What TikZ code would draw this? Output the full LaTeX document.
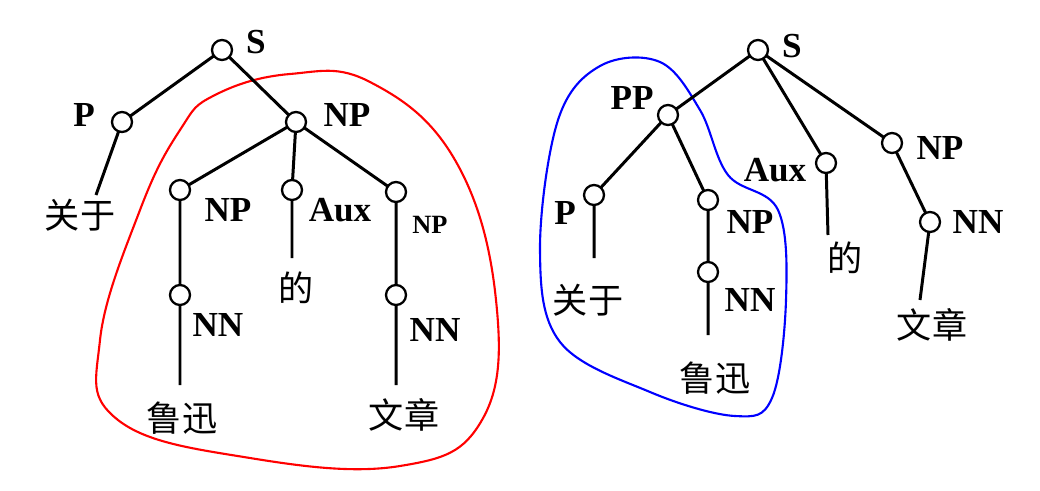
\documentclass[tikz,border=0pt]{standalone}
\usepackage{fontspec}
\setmainfont{Liberation Serif}
\newfontfamily\cjk{Noto Sans CJK SC}
\begin{document}
\begin{tikzpicture}[x=0.02cm,y=-0.02cm,
    tn/.style={circle,draw,fill=white,line width=1.3pt,minimum size=0.4cm,inner sep=0pt},
    lab/.style={font=\fontsize{20}{20}\selectfont\bfseries},
    word/.style={font=\fontsize{20}{20}\selectfont\cjk},
    edge/.style={line width=1.7pt}]
    \useasboundingbox (0,0) rectangle (1040,490);

    % left tree
    \draw[red,line width=1.2pt] plot[smooth cycle,tension=0.7] coordinates {(215,95) (290,74) (370,82) (455,160) (496,300) (482,420) (400,466) (250,458) (118,420) (100,340) (140,210) (180,130)};
    \coordinate (Lpw) at (96,195);
    \coordinate (Law) at (292,258);
    \coordinate (Lnw1) at (180,385);
    \coordinate (Lnw2) at (396,385);
    \draw[edge] (222,50) -- (122,122) -- (Lpw);
    \draw[edge] (222,50) -- (296,122);
    \draw[edge] (296,122) -- (180,190) -- (180,295) -- (Lnw1);
    \draw[edge] (296,122) -- (292,190) -- (Law);
    \draw[edge] (296,122) -- (396,192) -- (396,295) -- (Lnw2);
    \node[tn] (LS) at (222,50) {};
    \node[tn] (LP) at (122,122) {};
    \node[tn] (LNP) at (296,122) {};
    \node[tn] (LNPa) at (180,190) {};
    \node[tn] (LAux) at (292,190) {};
    \node[tn] (LNPb) at (396,192) {};
    \node[tn] (LNNa) at (180,295) {};
    \node[tn] (LNNb) at (396,295) {};
    \node[lab] at (256,42) {S};
    \node[lab] at (84,115) {P};
    \node[lab] at (347,115) {NP};
    \node[lab] at (228,210) {NP};
    \node[lab] at (340,210) {Aux};
    \node[lab,font=\fontsize{15}{15}\selectfont\bfseries] at (430,225) {NP};
    \node[lab] at (218,325) {NN};
    \node[lab] at (435,330) {NN};
    \node[word] at (80,215) {关于};
    \node[word] at (296,288) {的};
    \node[word] at (182,418) {鲁迅};
    \node[word] at (404,415) {文章};

    % right tree
    \draw[blue,line width=1.2pt] plot[smooth cycle,tension=0.6] coordinates {(600,66) (660,62) (700,110) (728,175) (778,210) (786,300) (772,398) (735,416) (650,392) (560,342) (540,250) (558,120)};
    \coordinate (Rpw) at (594,258);
    \coordinate (Rnw) at (708,335);
    \coordinate (Raw) at (828,235);
    \coordinate (Rmw) at (920,300);
    \draw[edge] (758,50) -- (668,115) -- (594,195) -- (Rpw);
    \draw[edge] (668,115) -- (708,200) -- (708,272) -- (Rnw);
    \draw[edge] (758,50) -- (826,163) -- (Raw);
    \draw[edge] (758,50) -- (892,143) -- (930,222) -- (Rmw);
    \node[tn] (RS) at (758,50) {};
    \node[tn] (RPP) at (668,115) {};
    \node[tn] (RP) at (594,195) {};
    \node[tn] (RNP) at (708,200) {};
    \node[tn] (RNN) at (708,272) {};
    \node[tn] (RAux) at (826,163) {};
    \node[tn] (RNPb) at (892,143) {};
    \node[tn] (RNNb) at (930,222) {};
    \node[lab] at (792,46) {S};
    \node[lab] at (632,98) {PP};
    \node[lab] at (565,213) {P};
    \node[lab] at (750,222) {NP};
    \node[lab] at (750,300) {NN};
    \node[lab] at (775,170) {Aux};
    \node[lab] at (940,148) {NP};
    \node[lab] at (978,222) {NN};
    \node[word] at (588,300) {关于};
    \node[word] at (715,378) {鲁迅};
    \node[word] at (845,258) {的};
    \node[word] at (932,325) {文章};
\end{tikzpicture}
\end{document}
